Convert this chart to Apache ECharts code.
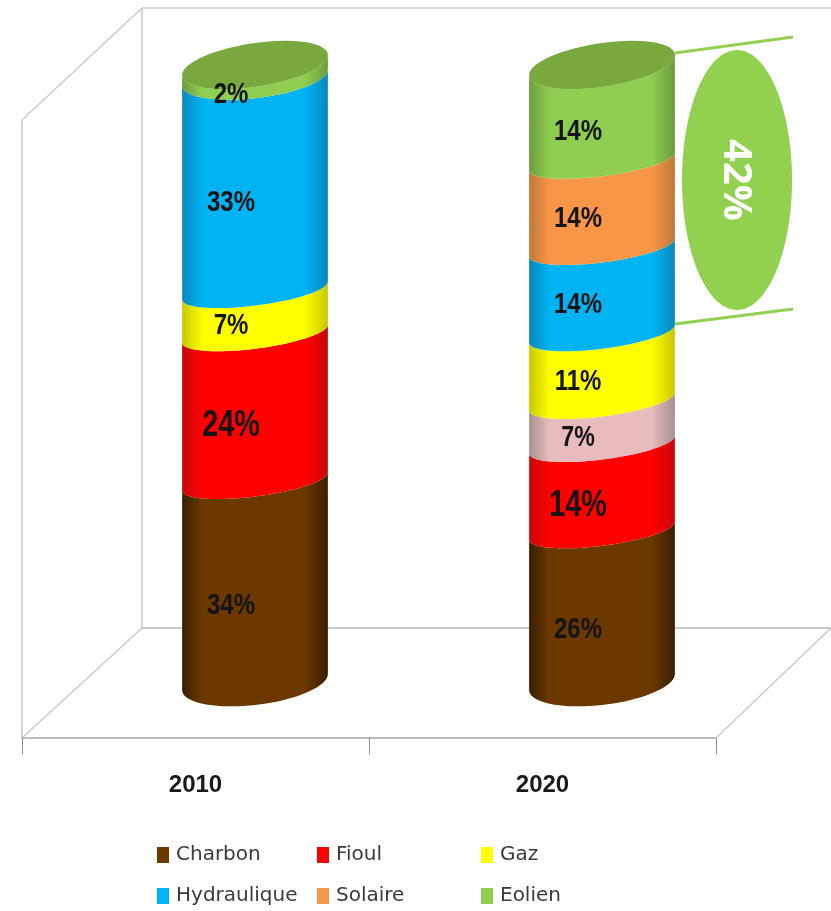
<!DOCTYPE html>
<html><head><meta charset="utf-8">
<style>html,body{margin:0;padding:0;background:#fff}#c{width:831px;height:911px}</style>
<script src="https://cdn.jsdelivr.net/npm/echarts@6/dist/echarts.min.js"></script>
</head><body><div id="c"></div>
<script>
const categories = ['2010', '2020'];
const charbon = [34, 26];
const fioul = [24, 14];
const autre = [0, 7];
const gaz = [7, 11];
const hydraulique = [33, 14];
const solaire = [0, 14];
const eolien = [2, 14];
const bracketTotal = '42%';

const layers = [
  {name:'Charbon', values:charbon, color:'#6b3800', dark:'#3a1e00', size:30, dy:19},
  {name:'Fioul', values:fioul, color:'#ff0000', dark:'#c80808', size:36, dy:18},
  {name:'Biomasse', values:autre, color:'#e8bcbc', dark:'#a89090', size:29, dy:15},
  {name:'Gaz', values:gaz, color:'#ffff00', dark:'#c8c800', size:30, dy:14},
  {name:'Hydraulique', values:hydraulique, color:'#00b4f4', dark:'#0a88bc', size:30, dy:14},
  {name:'Solaire', values:solaire, color:'#f79646', dark:'#c07838', size:30, dy:14},
  {name:'Eolien', values:eolien, color:'#8fce50', dark:'#6c9c3c', size:30, dy:14}
];
const FONT = '"Liberation Sans",sans-serif';
const capColor = '#78a83e';
const wallColor = '#c9c9c9';

function arc(cx, cy, rx, ry, tilt, reverse) {
  const pts = [];
  const n = 40;
  for (let i = 0; i <= n; i++) {
    const t = Math.PI * (reverse ? n - i : i) / n;
    pts.push([cx - rx * Math.cos(t), cy + ry * Math.sin(t) + tilt * Math.cos(t)]);
  }
  return pts;
}
function fullEllipse(cx, cy, rx, ry, tilt) {
  const pts = [];
  for (let i = 0; i < 80; i++) {
    const t = Math.PI * 2 * i / 80;
    pts.push([cx - rx * Math.cos(t), cy + ry * Math.sin(t) + tilt * Math.cos(t)]);
  }
  return pts;
}

const series = layers.map((layer, li) => {
  const rows = layer.values.map((v, ci) => {
    let start = 0;
    for (let k = 0; k < li; k++) start += layers[k].values[ci];
    return [ci, start, start + v, v];
  });
  return {
    name: layer.name,
    type: 'custom',
    xAxisIndex: 1,
    yAxisIndex: 1,
    itemStyle: {color: layer.color},
    data: rows,
    renderItem(params, api) {
      const ci = api.value(0), s = api.value(1), e = api.value(2), v = api.value(3);
      if (!v) return {type:'group', children:[]};
      const pb = api.coord([ci, s]), pt = api.coord([ci, e]);
      const rx = api.size([1, 0])[0] * 0.21;
      const cx = pb[0];
      const edge = (val, y) => val <= 0 ? {y:y - 9, ry:23, tilt:8}
                             : val >= 100 ? {y:y - 10, ry:22, tilt:10}
                             : val > 95 ? {y:y - 10, ry:21, tilt:8}
                             : {y:y, ry:15, tilt:9};
      const B = edge(s, pb[1]), T = edge(e, pt[1]);
      const points = arc(cx, T.y, rx, T.ry, T.tilt, false).concat(arc(cx, B.y, rx, B.ry, B.tilt, true));
      const children = [{
        type:'polygon', shape:{points},
        style:{fill:{type:'linear', x:0, y:0, x2:1, y2:0, colorStops:[
          {offset:0, color:layer.dark},{offset:0.14, color:layer.color},
          {offset:0.84, color:layer.color},{offset:1, color:layer.dark}]}}
      }];
      if (e >= 100) {
        children.push({type:'polygon', shape:{points:fullEllipse(cx, T.y, rx, T.ry, T.tilt)}, style:{fill:capColor}});
      }
      children.push({type:'text', z2:10,
        x: cx - 24, y: (pb[1] + pt[1]) / 2 + layer.dy, scaleX:0.8,
        style:{text: v + '%', align:'center', verticalAlign:'middle', fill:'#141414',
          font:'bold ' + layer.size + 'px ' + FONT}});
      return {type:'group', children};
    }
  };
});

const line = (x1,y1,x2,y2,w,c) => ({type:'line', silent:true, shape:{x1,y1,x2,y2}, style:{stroke:c||wallColor, lineWidth:w||1.5}});
const graphicEls = [
  line(142,8,831,8), line(142,8,142,628), line(142,628,831,628,2),
  line(142,8,22,120), line(22,120,22,738), line(22,738,142,628),
  line(716,738,831,628),
  line(675,53,793,37,3,'#92d050'), line(675,324,793,309,3,'#92d050'),
  {type:'ellipse', silent:true, shape:{cx:737,cy:180,rx:55,ry:130}, style:{fill:'#92d050'}},
  {type:'text', silent:true, x:735, y:180, rotation:-Math.PI/2,
   style:{text:bracketTotal, align:'center', verticalAlign:'middle', fill:'#fff', font:'bold 40px "Open Sans",sans-serif'}}
];

const legendBase = {orient:'vertical', icon:'rect', itemWidth:12, itemHeight:16, itemGap:21, top:840,
  textStyle:{fontFamily:'"DejaVu Sans",sans-serif', fontSize:20, color:'#3a3a3a', padding:[0,0,0,2]}};

const chart = echarts.init(document.getElementById('c'), null, {renderer:'canvas'});
chart.setOption({
  animation:false,
  backgroundColor:'#fff',
  graphic:{elements:graphicEls},
  legend:[
    Object.assign({left:152, data:['Charbon','Hydraulique']}, legendBase),
    Object.assign({left:312, data:['Fioul','Solaire']}, legendBase),
    Object.assign({left:476, data:['Gaz','Eolien']}, legendBase)
  ],
  grid:[
    {left:22, width:694, top:120, height:618},
    {left:81.5, width:694, top:75, height:616}
  ],
  xAxis:[
    {type:'category', gridIndex:0, data:categories,
     axisLine:{lineStyle:{color:'#bdbdbd', width:2}},
     axisTick:{show:true, length:16, lineStyle:{color:'#8f8f8f'}},
     axisLabel:{margin:35, color:'#1a1a1a', fontFamily:FONT, fontWeight:'bold', fontSize:24}},
    {type:'category', gridIndex:1, data:categories, show:false}
  ],
  yAxis:[
    {type:'value', gridIndex:0, show:false, min:0, max:100},
    {type:'value', gridIndex:1, show:false, min:0, max:100}
  ],
  series
});
</script></body></html>
